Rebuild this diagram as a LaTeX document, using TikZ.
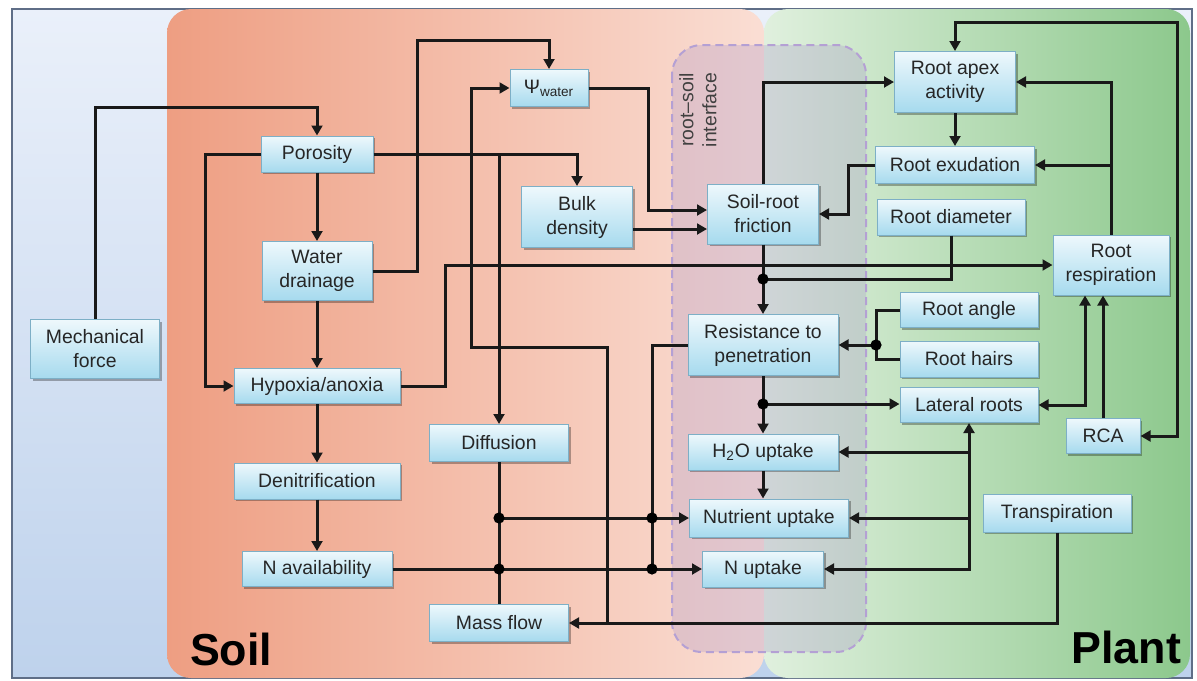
\documentclass[tikz,border=0pt]{standalone}
\usepackage{fontspec}
\setmainfont{Liberation Sans}
\usetikzlibrary{arrows.meta,shadows,calc}
\definecolor{bluetop}{RGB}{234,240,250}
\definecolor{bluebot}{RGB}{190,210,236}
\definecolor{blueborder}{RGB}{95,110,135}
\definecolor{soilL}{RGB}{238,158,130}
\definecolor{soilR}{RGB}{250,222,212}
\definecolor{plantL}{RGB}{224,240,222}
\definecolor{plantR}{RGB}{140,200,140}
\definecolor{ifc}{RGB}{165,145,200}
\definecolor{ifcborder}{RGB}{180,160,212}
\definecolor{boxtop}{RGB}{238,248,252}
\definecolor{boxbot}{RGB}{166,218,238}
\definecolor{boxborder}{RGB}{125,175,198}
\tikzset{
  box/.style={draw=boxborder, line width=0.5pt, top color=boxtop, bottom color=boxbot,
    drop shadow={shadow xshift=1pt, shadow yshift=-1pt, fill=black, opacity=0.3},
    inner sep=0pt, align=center, font=\fontsize{9.7}{12}\selectfont, text=black!85},
  sz/.style 2 args={minimum width=#1*0.5pt, minimum height=#2*0.5pt},
  line/.style={line width=1.5pt, black!90},
  conn/.style={line, -{Triangle[length=5pt,width=5.4pt]}},
  conn2/.style={line, {Triangle[length=5pt,width=5.4pt]}-{Triangle[length=5pt,width=5.4pt]}}
}
\begin{document}
\begin{tikzpicture}[x=0.5pt,y=-0.5pt]
\useasboundingbox (0,0) rectangle (1197,680);
\fill[white] (0,0) rectangle (1197,680);
% backgrounds
\shade[top color=bluetop, bottom color=bluebot] (12,9) rectangle (1192,678);
\draw[blueborder, line width=0.8pt] (12,9) rectangle (1192,678);
\shade[left color=soilL, right color=soilR, rounded corners=12pt] (167,9) rectangle (764,678);
\shade[left color=plantL, right color=plantR, rounded corners=12pt] (764,9) rectangle (1190,678);
\filldraw[fill=ifc, fill opacity=0.28, draw=ifcborder, line width=1pt, dash pattern=on 4pt off 2.5pt, rounded corners=15pt] (672,45) rectangle (866,652);
\node[rotate=90, align=center, font=\fontsize{9.7}{11.5}\selectfont, text=black!75] (ifl) at (698,110) {root--soil\\interface};
\node[font=\bfseries\fontsize{22.4}{26}\selectfont, anchor=base west] (soillbl) at (183,665) {Soil};
\node[font=\bfseries\fontsize{22.4}{26}\selectfont, anchor=base east] (plantlbl) at (1188,663) {Plant};

% nodes
\node[box, sz={129}{59}] (mech) at (95,349) {Mechanical\\force};
\node[box, sz={112}{36}] (poro) at (317,154) {Porosity};
\node[box, sz={110}{59}] (drain) at (317,271) {Water\\drainage};
\node[box, sz={166}{35}] (hypox) at (317,386) {Hypoxia/anoxia};
\node[box, sz={166}{36}] (denit) at (317,481) {Denitrification};
\node[box, sz={150}{35}] (navail) at (317,569) {N availability};
\node[box, sz={78}{37}] (psi) at (549,88) {Ψ\textsubscript{water}};
\node[box, sz={111}{61}] (bulk) at (577,217) {Bulk\\density};
\node[box, sz={139}{37}] (diff) at (499,443) {Diffusion};
\node[box, sz={139}{37}] (mass) at (499,623) {Mass flow};
\node[box, sz={111}{60}] (fric) at (763,214) {Soil-root\\friction};
\node[box, sz={150}{61}] (resist) at (763,345) {Resistance to\\penetration};
\node[box, sz={150}{36}] (h2o) at (763,452) {H\textsubscript{2}O uptake};
\node[box, sz={159}{38}] (nutr) at (769,518) {Nutrient uptake};
\node[box, sz={121}{36}] (nupt) at (763,569) {N uptake};
\node[box, sz={121}{61}] (apex) at (955,82) {Root apex\\activity};
\node[box, sz={159}{37}] (exud) at (955,165) {Root exudation};
\node[box, sz={148}{36}] (diam) at (951,217) {Root diameter};
\node[box, sz={116}{60}] (resp) at (1111,265) {Root\\respiration};
\node[box, sz={138}{35}] (angle) at (969,310) {Root angle};
\node[box, sz={138}{36}] (hairs) at (969,359) {Root hairs};
\node[box, sz={138}{35}] (lat) at (969,405) {Lateral roots};
\node[box, sz={74}{35}] (rca) at (1103,436) {RCA};
\node[box, sz={148}{38}] (transp) at (1057,513) {Transpiration};

% connectors
\draw[conn] (mech.north) -- (95,107) -| (poro.north);
\draw[conn] (poro.south) -- (drain.north);
\draw[conn] (poro.west) -- (205,154) |- (hypox.west);
\draw[conn] (drain.south) -- (hypox.north);
\draw[conn] (hypox.south) -- (denit.north);
\draw[conn] (denit.south) -- (navail.north);
\draw[conn] (poro.east) -| (bulk.north);
\draw[conn] (poro.east -| diff.north) -- (diff.north);
\draw[conn] (drain.east) -- (417,271) -- (417,40) -| (psi.north);
\draw[conn] (transp.south) |- (mass.east);
\coordinate (tj) at (607,623);
\draw[conn] (tj) |- (471,347) |- (psi.west);
\draw[conn] (psi.east) -- (648,88) |- ([yshift=2pt]fric.west);
\coordinate (b1) at ([yshift=-6pt]bulk.east);
\draw[conn] (b1) -- (b1 -| fric.west);
\draw[conn] (hypox.east) -- (445,386) |- (resp.west);
\coordinate (d1) at (763,279);
\draw[conn] (fric.south) -- (resist.north);
\draw[line] (diam.south) |- (d1);
\draw[conn] (fric.north) |- (apex.west);
\draw[conn] (apex.south) -- (exud.north);
\draw[conn] (exud.west) -| (848,214) -- (fric.east);
\draw[conn] (resp.north) |- (apex.east);
\draw[conn] (resp.north |- exud.east) -- (exud.east);
\draw[conn2] (rca.east) -| (1177,22) -| (apex.north);
\draw[conn] (rca.north) -- (rca.north |- resp.south);
\draw[conn2] (lat.east) -| ([xshift=-13pt]resp.south);
\draw[line] (angle.west) -- (876,310) -- (876,359) -- (hairs.west);
\coordinate (d2) at (876,345);
\draw[conn] (d2) -- (resist.east);
\coordinate (d3) at (763,404);
\draw[conn] (resist.south) -- (h2o.north);
\draw[conn] (d3) -- (d3 -| lat.west);
\draw[conn] (h2o.south) -- (h2o.south |- nutr.north);
\draw[conn2] (lat.south) |- (nupt.east);
\coordinate (l2) at (969,452);
\coordinate (l3) at (969,518);
\draw[conn] (l2) -- (h2o.east);
\draw[conn] (l3) -- (nutr.east);
\draw[line] (diff.south) -- (mass.north);
\coordinate (d4) at (499,518);
\coordinate (d5) at (499,569);
\coordinate (d6) at (652,518);
\coordinate (d7) at (652,569);
\draw[conn] (d4) -- (nutr.west);
\draw[conn] (navail.east) -- (nupt.west);
\draw[line] (resist.west) -| (d7);
\foreach \p in {d1,d2,d3,d4,d5,d6,d7} \fill (\p) circle (2.8pt);
\end{tikzpicture}
\end{document}
